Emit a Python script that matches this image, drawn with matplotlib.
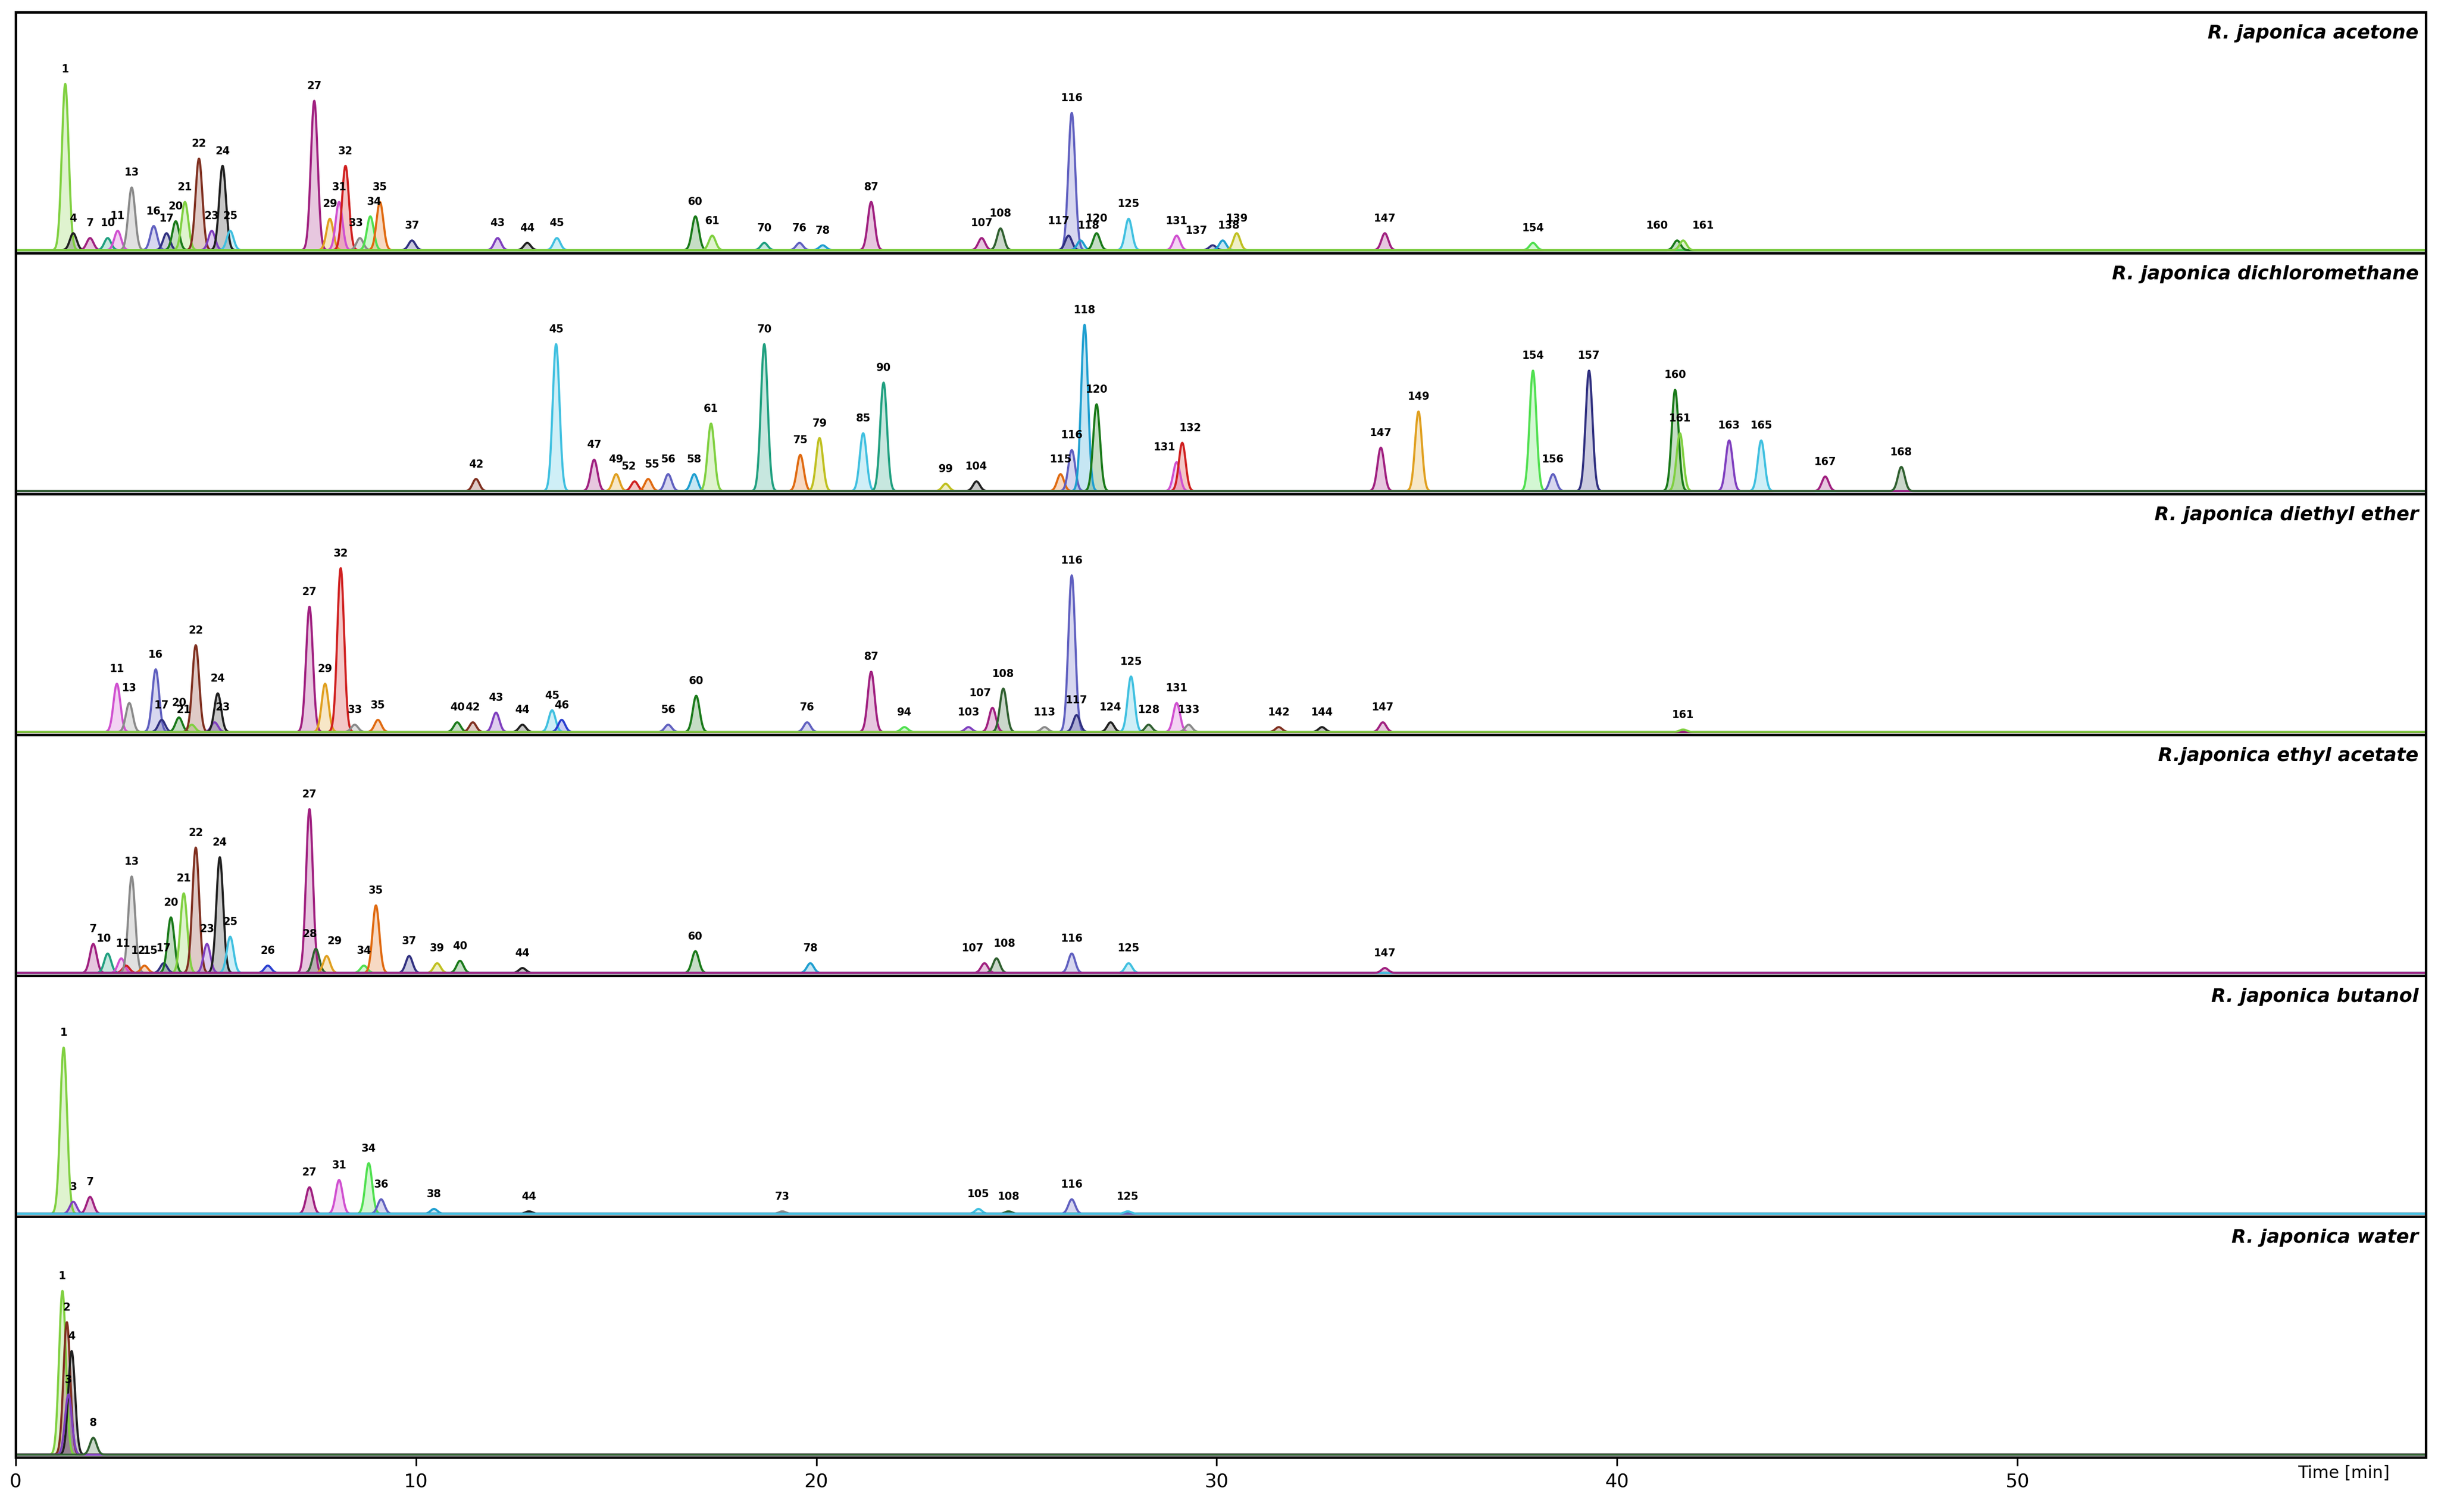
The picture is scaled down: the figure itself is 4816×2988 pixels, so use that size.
import numpy as np
import matplotlib
matplotlib.use("Agg")
import matplotlib.pyplot as plt

titles = ["R. japonica acetone", "R. japonica dichloromethane", "R. japonica diethyl ether",
          "R.japonica ethyl acetate", "R. japonica butanol", "R. japonica water"]

acetone_lab = [1,4,7,10,11,13,16,17,20,21,22,23,24,25,27,29,31,32,33,34,35,37,43,44,45,60,61,70,76,78,87,107,108,116,117,118,120,125,131,137,138,139,147,154,160,161]
acetone_t = [1.24,1.44,1.86,2.3,2.55,2.9,3.45,3.77,4.0,4.23,4.58,4.9,5.17,5.36,7.46,7.85,8.08,8.24,8.6,8.86,9.1,9.9,12.04,12.78,13.52,16.98,17.4,18.7,19.58,20.16,21.37,24.13,24.6,26.38,26.3,26.6,27.0,27.8,29.0,29.9,30.15,30.5,34.2,37.9,41.5,41.65]
acetone_h = [0.69,0.07,0.05,0.05,0.08,0.26,0.1,0.07,0.12,0.2,0.38,0.08,0.35,0.08,0.62,0.13,0.2,0.35,0.05,0.14,0.2,0.04,0.05,0.03,0.05,0.14,0.06,0.03,0.03,0.02,0.2,0.05,0.09,0.57,0.06,0.04,0.07,0.13,0.06,0.02,0.04,0.07,0.07,0.03,0.04,0.04]

dcm_lab = [42,45,47,49,52,55,56,58,61,70,75,79,85,90,99,104,115,116,118,120,131,132,147,149,154,156,157,160,161,163,165,167,168]
dcm_t = [11.5,13.5,14.45,15.0,15.46,15.8,16.3,16.95,17.37,18.7,19.6,20.08,21.17,21.68,23.23,24.0,26.1,26.38,26.7,27.0,29.0,29.14,34.1,35.04,37.9,38.4,39.3,41.45,41.57,42.8,43.6,45.2,47.1]
dcm_h = [0.05,0.61,0.13,0.07,0.04,0.05,0.07,0.07,0.28,0.61,0.15,0.22,0.24,0.45,0.03,0.04,0.07,0.17,0.69,0.36,0.12,0.2,0.18,0.33,0.5,0.07,0.5,0.42,0.24,0.21,0.21,0.06,0.1]

ether_lab = [11,13,16,17,20,21,22,23,24,27,29,32,33,35,40,42,43,44,45,46,56,60,76,87,94,103,107,108,113,116,117,124,125,128,131,133,142,144,147,161]
ether_t = [2.53,2.84,3.5,3.65,4.08,4.4,4.5,4.97,5.05,7.34,7.73,8.12,8.47,9.05,11.03,11.42,12.0,12.66,13.4,13.64,16.3,17.0,19.77,21.37,22.2,23.8,24.4,24.67,25.7,26.38,26.5,27.35,27.86,28.3,29.0,29.3,31.55,32.63,34.15,41.65]
ether_h = [0.2,0.12,0.26,0.05,0.06,0.03,0.36,0.04,0.16,0.52,0.2,0.68,0.03,0.05,0.04,0.04,0.08,0.03,0.09,0.05,0.03,0.15,0.04,0.25,0.02,0.02,0.1,0.18,0.02,0.65,0.07,0.04,0.23,0.03,0.12,0.03,0.02,0.02,0.04,0.01]

ea_lab = [7,10,11,12,13,15,17,20,21,22,23,24,25,26,27,28,29,34,35,37,39,40,44,60,78,107,108,116,125,147]
ea_t = [1.94,2.3,2.64,2.76,2.9,3.22,3.7,3.88,4.2,4.5,4.78,5.1,5.36,6.3,7.34,7.5,7.77,8.7,9.0,9.83,10.53,11.1,12.66,16.98,19.85,24.2,24.5,26.38,27.8,34.2]
ea_h = [0.12,0.08,0.06,0.03,0.4,0.03,0.04,0.23,0.33,0.52,0.12,0.48,0.15,0.03,0.68,0.1,0.07,0.03,0.28,0.07,0.04,0.05,0.02,0.09,0.04,0.04,0.06,0.08,0.04,0.02]

but_lab = [1,3,7,27,31,34,36,38,44,73,105,108,116,125]
but_t = [1.2,1.44,1.86,7.34,8.08,8.82,9.13,10.45,12.82,19.15,24.05,24.8,26.38,27.78]
but_h = [0.69,0.05,0.07,0.11,0.14,0.21,0.06,0.02,0.01,0.01,0.02,0.01,0.06,0.01]

wat_lab = [1,2,4,3,8]
wat_t = [1.17,1.28,1.4,1.32,1.94]
wat_h = [0.68,0.55,0.43,0.25,0.07]

xticks = [0,10,20,30,40,50]

palette = ["#1a7a1a","#7f3fbf","#2a3fd0","#e0a020","#d02020","#e06a10","#1f9fd0","#80d040","#202020",
           "#a02080","#20a080","#8a8a8a","#6060c0","#c0c020","#803020","#40c0e0","#306030","#d050d0","#50e050","#303080"]

panels = [(acetone_lab,acetone_t,acetone_h),(dcm_lab,dcm_t,dcm_h),(ether_lab,ether_t,ether_h),
          (ea_lab,ea_t,ea_h),(but_lab,but_t,but_h),(wat_lab,wat_t,wat_h)]

# label offsets (in minutes) to reduce crowding: (panel, label) -> dx
label_dx = {(0,160):-0.5,(0,161):0.5,(0,117):-0.25,(0,118):0.2,(0,137):-0.4,(0,138):0.15,
            (0,33):-0.1,(0,34):0.1,(1,131):-0.3,(1,132):0.2,(1,52):-0.15,(1,55):0.1,
            (2,107):-0.3,(2,21):-0.2,(2,23):0.2,(3,10):-0.1,(3,11):0.05,(3,12):0.3,(3,15):0.15,
            (3,28):-0.15,(3,29):0.2,(3,107):-0.3,(3,108):0.2}

fig = plt.figure(figsize=(4816/300, 2988/300), dpi=300)
n = 6
left, right, top, bottom = 0.0064, 0.995, 0.992, 0.036
ph = (top-bottom)/n
x = np.linspace(0, 61, 8000)
sig = 0.085
for i,(lab,t,h) in enumerate(panels):
    ax = fig.add_axes([left, top-(i+1)*ph, right-left, ph])
    ax.set_xlim(0, 60.2)
    ax.set_ylim(0, 1.0)
    base = 0.012
    ax.plot([0,60.2],[base,base], color='#c8c8c8', lw=0.8)
    for j,(l,tt,hh) in enumerate(zip(lab,t,h)):
        c = palette[(l*7) % len(palette)]
        y = base + hh*np.exp(-0.5*((x-tt)/sig)**2)
        ax.fill_between(x, base, y, where=y>base+0.001, color=c, alpha=0.25, lw=0)
        ax.plot(x, y, color=c, lw=1.0)
        ax.text(tt+label_dx.get((i,l),0), base+hh+0.04, str(l), fontsize=5, ha='center',
                va='bottom', color='black', fontweight='bold')
    ax.text(0.997, 0.95, titles[i], transform=ax.transAxes, ha='right', va='top',
            fontsize=9, fontweight='bold', fontstyle='italic')
    ax.set_yticks([])
    for s in ax.spines.values():
        s.set_linewidth(1.2)
    if i < n-1:
        ax.set_xticks([])
    else:
        ax.set_xticks(xticks)
        ax.set_xticklabels([str(v) for v in xticks], fontsize=9)
        ax.tick_params(axis='x', length=4, direction='out')
        ax.text(0.985, -0.03, "Time [min]", transform=ax.transAxes, ha='right', va='top', fontsize=8)

fig.savefig("out.png", dpi=300)
